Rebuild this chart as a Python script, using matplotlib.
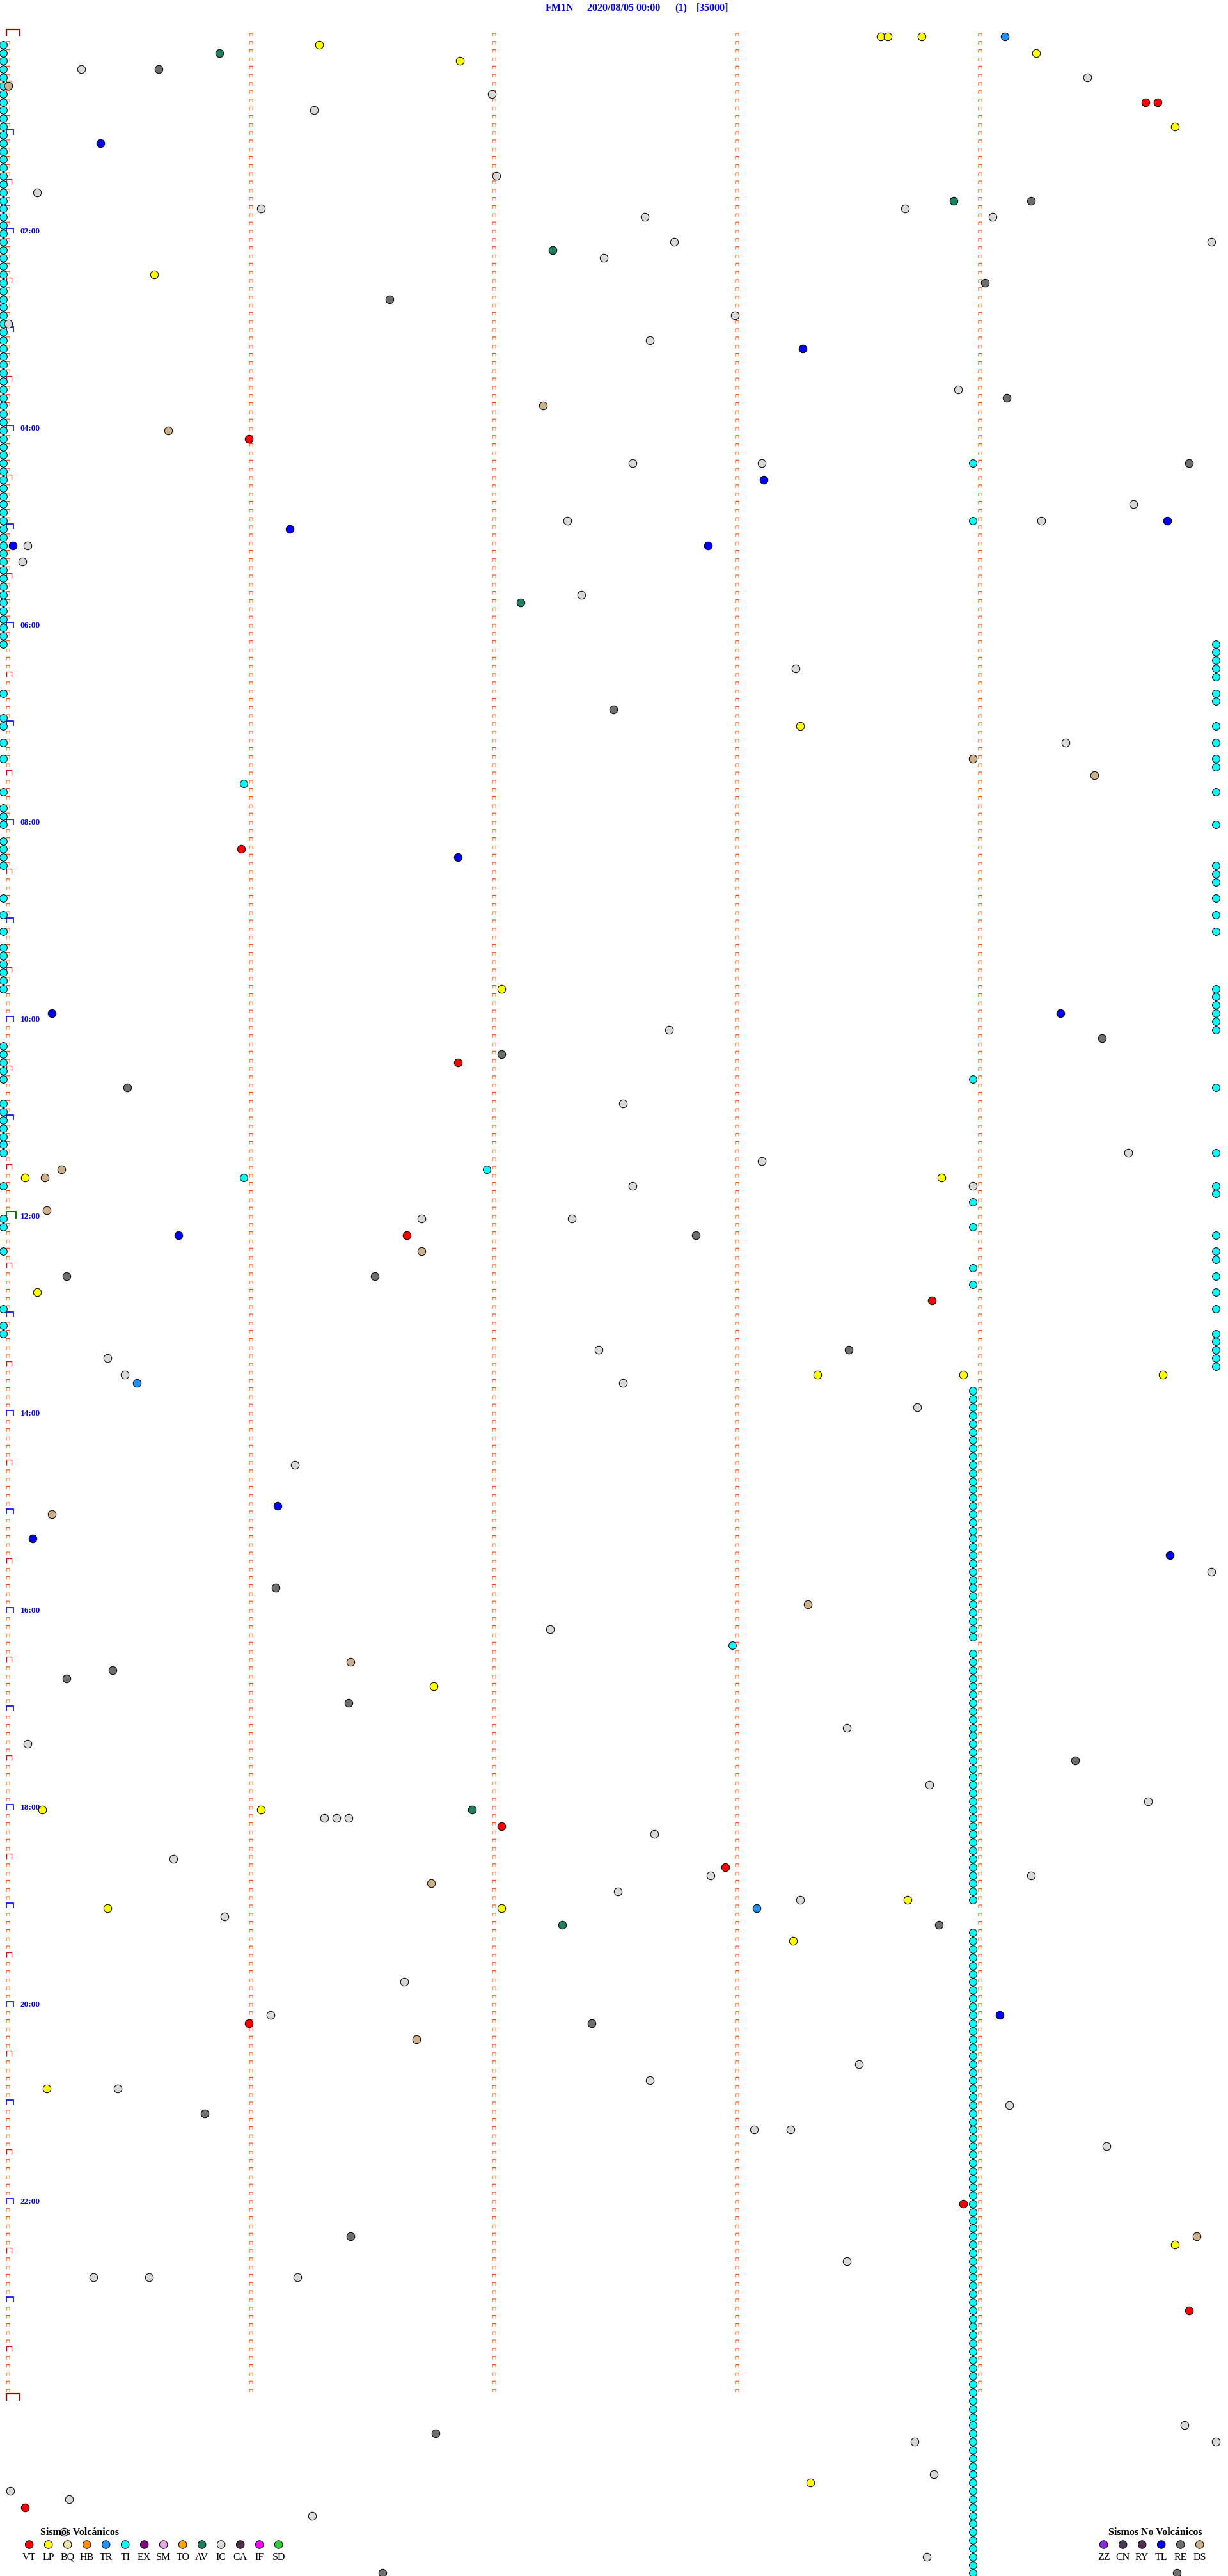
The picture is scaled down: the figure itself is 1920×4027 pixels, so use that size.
import numpy as np
import matplotlib
matplotlib.use('Agg')
import matplotlib.pyplot as plt

# 1. data: each event = row of the drum (5 min per row) + minute inside the row
VT_row = [8, 8, 49, 99, 125, 146, 154, 218, 223, 242, 264, 277, 301]
VT_min = [4.70, 4.75, 1.01, 0.98, 1.87, 1.66, 3.82, 2.05, 2.97, 1.01, 3.95, 4.88, 0.09]

LP_row = [0, 0, 0, 1, 2, 3, 11, 29, 84, 116, 139, 139, 153, 163, 163, 163, 201, 216, 216,
          227, 228, 228, 232, 250, 269, 298]
LP_min = [3.61, 3.64, 3.78, 1.30, 4.25, 1.88, 4.82, 0.62, 3.28, 2.05, 0.09, 3.86, 0.14, 3.35,
          3.95, 4.77, 1.77, 0.16, 1.06, 3.72, 0.43, 2.05, 3.25, 0.18, 4.82, 3.32]

TR_row = [0, 164, 228]
TR_min = [4.12, 0.55, 3.10]

TI_row = [52, 59, 91, 127, 138, 139, 142, 145, 150, 152, 196]
TI_min = [3.99, 3.99, 0.99, 3.99, 1.99, 0.99, 3.99, 3.99, 3.99, 3.99, 3.00]
# TI piled up at the start of the row, at the end of the row and at minute 4
TI_left_rows = [1, 2, 3, 4, 5, 6, 7, 8, 9, 10, 11, 12, 13, 14, 15, 16, 17, 18, 19, 20, 21, 22,
                23, 24, 25, 26, 27, 28, 29, 30, 31, 32, 33, 34, 35, 36, 37, 38, 39, 40, 41, 42,
                43, 44, 45, 46, 47, 48, 49, 50, 51, 52, 53, 54, 55, 56, 57, 58, 59, 60, 61, 62,
                63, 64, 65, 66, 67, 68, 69, 70, 71, 72, 73, 74, 80, 83, 84, 86, 88, 92, 94, 95,
                96, 98, 99, 100, 101, 105, 107, 109, 111, 112, 113, 114, 115, 116, 123, 124,
                125, 126, 127, 130, 131, 132, 133, 134, 135, 136, 140, 144, 145, 148, 155, 157,
                158]
TI_right_rows = [74, 75, 76, 77, 78, 80, 81, 84, 86, 88, 89, 92, 96, 101, 102, 103, 105, 107,
                 109, 116, 117, 118, 119, 120, 121, 128, 136, 140, 141, 146, 148, 149, 151, 153,
                 155, 158, 159, 160, 161, 162]
TI_mid_rows = [165, 166, 167, 168, 169, 170, 171, 172, 173, 174, 175, 176, 177, 178, 179, 180,
               181, 182, 183, 184, 185, 186, 187, 188, 189, 190, 191, 192, 193, 194, 195,
               197, 198, 199, 200, 201, 202, 203, 204, 205, 206, 207, 208, 209, 210, 211, 212,
               213, 214, 215, 216, 217, 218, 219, 220, 221, 222, 223, 224, 225, 226, 227,
               231, 232, 233, 234, 235, 236, 237, 238, 239, 240, 241, 242, 243, 244, 245, 246,
               247, 248, 249, 250, 251, 252, 253, 254, 255, 256, 257, 258, 259, 260, 261, 262,
               263, 264, 265, 266, 267, 268, 269, 270, 271, 272, 273, 274, 275, 276, 277, 278,
               279, 280, 281, 282, 283, 284, 285, 286, 287, 288, 289, 290, 291, 292, 293, 294,
               295, 296, 297, 298, 299, 300, 301, 302, 303, 304, 305, 306, 307, 308, 309]
TI_left_min, TI_right_min, TI_mid_min = 0.0, 4.99, 3.99

AV_row = [2, 20, 26, 69, 216, 230]
AV_min = [0.89, 3.91, 2.26, 2.13, 1.93, 2.30]

IC_row = [4, 5, 7, 9, 17, 19, 21, 21, 22, 22, 25, 25, 27, 34, 35, 37, 43, 52, 52, 57, 59, 59,
          62, 64, 68, 77, 86, 121, 130, 136, 137, 140, 140, 144, 144, 160, 161, 163, 164, 167,
          174, 187, 194, 206, 208, 213, 215, 217, 217, 217, 219, 222, 224, 224, 226, 227, 229,
          237, 241, 247, 249, 250, 252, 255, 255, 257, 271, 273, 273, 273, 291, 293, 293, 297,
          299, 300, 302, 304, 307]
IC_min = [0.32, 4.46, 2.01, 1.28, 2.03, 0.14, 1.06, 3.71, 2.64, 4.07, 2.76, 4.97, 2.47, 3.01,
          0.02, 2.66, 3.93, 2.59, 3.12, 4.65, 2.32, 4.27, 0.10, 0.08, 2.38, 3.26, 4.37, 2.74,
          2.55, 4.63, 3.12, 2.59, 3.99, 1.72, 2.34, 2.45, 0.43, 0.50, 2.55, 3.76, 1.20, 4.97,
          2.25, 3.47, 0.10, 3.81, 4.71, 1.32, 1.37, 1.42, 2.68, 0.70, 2.91, 4.23, 2.53, 3.28,
          0.91, 1.65, 1.10, 3.52, 2.66, 0.47, 4.14, 3.09, 3.24, 4.54, 3.47, 0.37, 0.60, 1.21,
          4.86, 3.75, 4.99, 3.83, 0.03, 0.27, 1.27, 0.25, 3.80]

RE_row = [4, 20, 30, 32, 44, 52, 82, 122, 124, 128, 146, 151, 151, 160, 189, 199, 200, 203,
          210, 230, 242, 253, 268, 292, 309, 309]
RE_min = [0.64, 4.23, 4.04, 1.59, 4.13, 4.88, 2.51, 4.52, 2.05, 0.51, 2.85, 1.53, 0.26, 3.48,
          1.12, 0.45, 0.26, 1.42, 4.41, 3.85, 2.42, 0.83, 1.43, 1.78, 1.56, 4.83]

TL_row = [13, 38, 54, 59, 60, 62, 62, 100, 119, 119, 146, 179, 183, 185, 241]
TL_min = [0.40, 3.29, 3.13, 4.79, 1.18, 0.04, 2.90, 1.87, 0.20, 4.35, 0.72, 1.13, 0.12, 4.80,
          4.10]

DS_row = [6, 45, 48, 88, 90, 138, 139, 143, 148, 180, 191, 198, 225, 244, 268]
DS_min = [0.02, 2.22, 0.68, 3.99, 4.49, 0.24, 0.17, 0.18, 1.72, 0.20, 3.31, 1.43, 1.76, 1.70,
          4.91]

volc_codes = ['VT', 'LP', 'BQ', 'HB', 'TR', 'TI', 'EX', 'SM', 'TO', 'AV', 'IC', 'CA', 'IF', 'SD']
volc_colors = ['#FF0000', '#FFFF00', '#EEE4A8', '#FF8C00', '#1E90FF', '#00FFFF', '#800080',
               '#E8A8E8', '#FFA500', '#1F7F62', '#D8D8D8', '#4A2E4A', '#FF00FF', '#32CD32']
novolc_codes = ['ZZ', 'CN', 'RY', 'TL', 'RE', 'DS']
novolc_colors = ['#8A2BE2', '#4A3A5C', '#552D57', '#0000FF', '#6E6E6E', '#CDB08A']

title_parts = ['FM1N', '2020/08/05 00:00', '(1)', '[35000]']
hour_labels = ['02:00', '04:00', '06:00', '08:00', '10:00', '12:00', '14:00', '16:00',
               '18:00', '20:00', '22:00']

# 2. figure geometry (pixels)
W, H = 1920, 4027
X0, PX_MIN = 5.0, 380.0      # x pixel of minute 0, pixels per minute
Y0, PX_ROW = 57.0, 12.833    # y pixel of row 0, pixels per row (5 min)
N_ROWS = 288

plt.rcParams['font.family'] = ['Liberation Serif', 'DejaVu Serif']
fig = plt.figure(figsize=(W / 100, H / 100), dpi=100)
ax = fig.add_axes([0, 0, 1, 1])
ax.set_xlim(-X0 / PX_MIN, (W - X0) / PX_MIN)
ax.set_ylim((H - Y0) / PX_ROW, -Y0 / PX_ROW)
ax.axis('off')


def brackets(rows, left_min, w_px, h_px):
    xs, ys = [], []
    w, h = w_px / PX_MIN, h_px / PX_ROW
    for r in rows:
        xs += [left_min, left_min, left_min + w, left_min + w, np.nan]
        ys += [r, r - h, r - h, r, np.nan]
    return xs, ys


tick_left = 5.0 / PX_MIN
# minute ticks of columns 1..4
for c in range(1, 5):
    xs, ys = brackets(range(N_ROWS), c + tick_left, 5.3, 5)
    ax.plot(xs, ys, color='#FF4500', lw=0.8, solid_joinstyle='miter', solid_capstyle='butt', zorder=1)

# column 0: row starts
rows0 = np.arange(N_ROWS + 1)
small = [r for r in rows0 if r % 6 != 0]
half = [r for r in rows0 if r % 6 == 0 and r % 12 != 0]
hour = [r for r in rows0 if r % 12 == 0 and r not in (0, 144, 288)]
for rr, w, h, lw, col in [(small, 5.3, 5, 0.8, '#FF4500'),
                          (half, 8.5, 8.3, 0.9, '#FF0000'),
                          (hour, 11.0, 8.3, 1.2, '#0000FF'),
                          ([144], 15.0, 10.5, 1.5, '#008000'),
                          ([0, 288], 21.0, 10.5, 1.6, '#990000')]:
    xs, ys = brackets(rr, tick_left, w, h)
    ax.plot(xs, ys, color=col, lw=lw, solid_joinstyle='miter', solid_capstyle='butt', zorder=1)

for i, lab in enumerate(hour_labels):
    ax.text(27.0 / PX_MIN, 24 * (i + 1), lab, color='#0000FF', fontsize=9.6,
            fontweight='bold', va='baseline', ha='left', zorder=4)

# 3. events
colors = dict(zip(volc_codes + novolc_codes, volc_colors + novolc_colors))
ms = 80
events = [('IC', IC_row, IC_min), ('RE', RE_row, RE_min), ('DS', DS_row, DS_min),
          ('AV', AV_row, AV_min), ('TL', TL_row, TL_min), ('TR', TR_row, TR_min),
          ('LP', LP_row, LP_min), ('VT', VT_row, VT_min)]
ax.scatter([TI_left_min] * len(TI_left_rows), TI_left_rows, s=72, c=colors['TI'],
           edgecolors='black', linewidths=0.75, zorder=2)
ax.scatter([TI_right_min] * len(TI_right_rows), TI_right_rows, s=72, c=colors['TI'],
           edgecolors='black', linewidths=0.75, zorder=2)
ax.scatter([TI_mid_min] * len(TI_mid_rows), TI_mid_rows, s=72, c=colors['TI'],
           edgecolors='black', linewidths=0.75, zorder=2)
ax.scatter(TI_min, TI_row, s=72, c=colors['TI'], edgecolors='black', linewidths=0.75, zorder=2)
for code, rr, mm in events:
    ax.scatter(mm, rr, s=ms, c=colors[code], edgecolors='black', linewidths=0.75, zorder=3)

# 4. title
for txt, xp in zip(title_parts, [853, 918, 1055, 1089]):
    fig.text(xp / W, 1 - 17.3 / H, txt, color='#0000FF', fontsize=11.5, fontweight='bold',
             va='baseline', ha='left')

# 5. legends
for codes, cols, x_first, head, head_x in [(volc_codes, volc_colors, 45.7, 'Sismos Volcánicos', 63),
                                           (novolc_codes, novolc_colors, 1725.7, 'Sismos No Volcánicos', 1733)]:
    lax = fig.add_axes([0, 0, 1, 1], facecolor='none')
    lax.set_xlim(-x_first / 30.0, (W - x_first) / 30.0)
    lax.set_ylim(H, 0)
    lax.axis('off')
    idx = np.arange(len(codes))
    lax.scatter(idx, [3978] * len(codes), s=80, c=cols, edgecolors='black', linewidths=0.75, zorder=3)
    for i, code in enumerate(codes):
        lax.text(i, 4001.5, code, ha='center', va='baseline', fontsize=11.5, zorder=5)
    fig.text(head_x / W, 1 - 3963 / H, head, fontsize=11.5, fontweight='bold',
             va='baseline', ha='left', zorder=6)

fig.savefig('out.png', dpi=100, facecolor='white')
